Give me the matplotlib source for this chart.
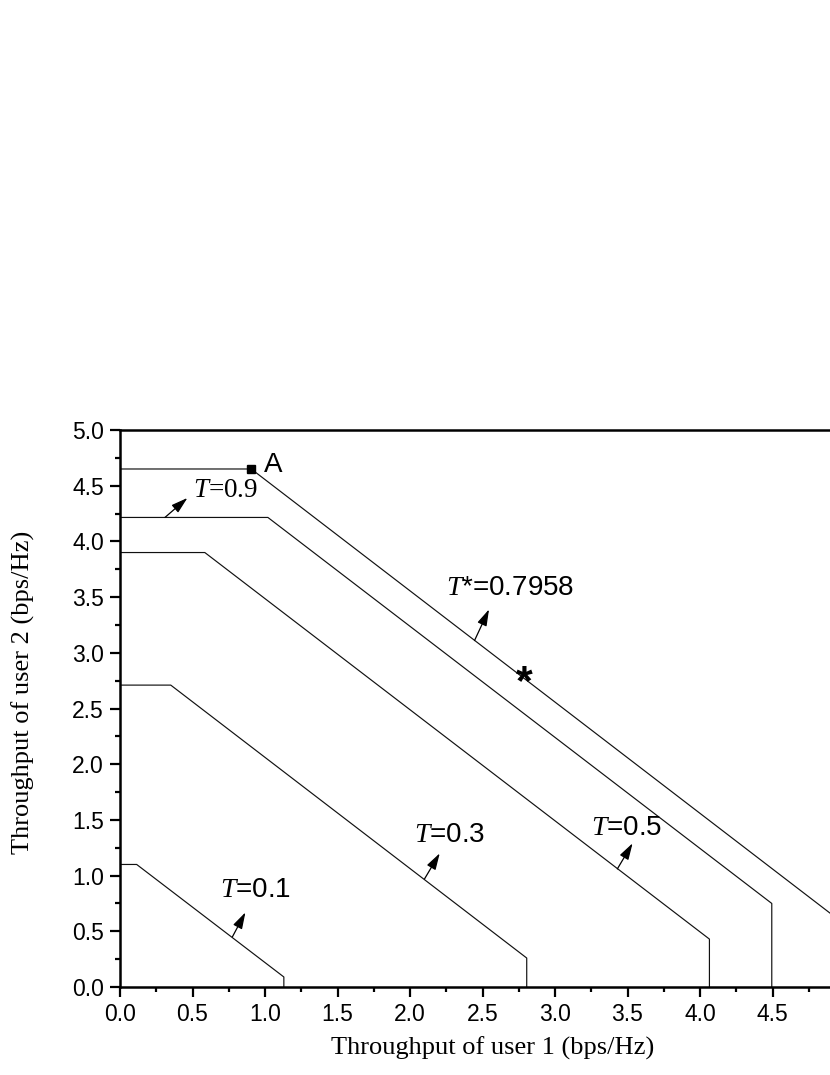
import matplotlib
matplotlib.use("Agg")
import matplotlib.pyplot as plt
from matplotlib.ticker import MultipleLocator, FuncFormatter

plt.rcParams['mathtext.fontset'] = 'custom'
plt.rcParams['mathtext.it'] = 'Liberation Serif:italic'
plt.rcParams['mathtext.rm'] = 'Liberation Serif'

# rate regions for each T: (x, y) vertices
t01_x = [0.0, 0.115, 1.13, 1.13]
t01_y = [1.10, 1.10, 0.09, 0.0]
t03_x = [0.0, 0.35, 2.805, 2.805]
t03_y = [2.71, 2.71, 0.26, 0.0]
t05_x = [0.0, 0.585, 4.065, 4.065]
t05_y = [3.90, 3.90, 0.43, 0.0]
t09_x = [0.0, 1.02, 4.495, 4.495]
t09_y = [4.215, 4.215, 0.75, 0.0]
tstar_x = [0.0, 0.905, 4.96, 4.96]
tstar_y = [4.65, 4.65, 0.60, 0.0]

point_a = (0.905, 4.65)
point_star = (2.785, 2.82)

# labels: text, text position, arrow tail, arrow head, font family, size
labels = [
    (r'$T$=0.9', (0.50, 4.455), (0.31, 4.215), (0.465, 4.39), 'Liberation Serif', 19.5),
    (r'$T$*=0.7958', (2.25, 3.58), (2.445, 3.11), (2.545, 3.39), 'Liberation Sans', 20),
    (r'$T$=0.5', (3.25, 1.43), (3.43, 1.06), (3.535, 1.29), 'Liberation Sans', 20),
    (r'$T$=0.3', (2.03, 1.36), (2.10, 0.97), (2.205, 1.20), 'Liberation Sans', 20),
    (r'$T$=0.1', (0.69, 0.87), (0.775, 0.45), (0.865, 0.67), 'Liberation Sans', 20),
]

fig = plt.figure(figsize=(8.3, 10.75), dpi=100)
ax = fig.add_axes([120/830, 88/1075, 725/830, 557/1075])

for xs, ys in [(t01_x, t01_y), (t03_x, t03_y), (t05_x, t05_y),
               (t09_x, t09_y), (tstar_x, tstar_y)]:
    ax.plot(xs, ys, color='#111111', lw=0.85)

ax.plot(*point_a, marker='s', ms=6, color='black')
ax.text(point_a[0] + 0.09, point_a[1] + 0.04, 'A', fontsize=20,
        family='Liberation Sans', va='center', ha='left')
ax.text(point_star[0], point_star[1] - 0.09, '*', fontsize=31, family='Liberation Sans',
        fontweight='bold', ha='center', va='center')

for txt, tpos, tail, head, fam, fs in labels:
    ax.annotate('', xy=head, xytext=tail,
                arrowprops=dict(arrowstyle='-|>,head_length=1.0,head_width=0.3',
                                color='black', lw=0.9, shrinkA=0, shrinkB=0))
    ax.text(tpos[0], tpos[1], txt, fontsize=fs, family=fam, ha='left', va='center')

ax.set_xlim(0, 5.0)
ax.set_ylim(0, 5.0)
ax.xaxis.set_major_locator(MultipleLocator(0.5))
ax.xaxis.set_minor_locator(MultipleLocator(0.25))
ax.yaxis.set_major_locator(MultipleLocator(0.5))
ax.yaxis.set_minor_locator(MultipleLocator(0.25))
# last x label sits past the cropped right edge, so leave it blank
ax.xaxis.set_major_formatter(FuncFormatter(lambda v, p: '' if v > 4.9 else '%.1f' % v))
ax.yaxis.set_major_formatter(FuncFormatter(lambda v, p: '%.1f' % v))
ax.tick_params(which='both', direction='out', top=False, right=False, width=1.6)
ax.tick_params(which='major', length=7, pad=4.5, labelsize=16.5)
ax.tick_params(which='minor', length=3.5)
for lab in ax.get_xticklabels() + ax.get_yticklabels():
    lab.set_family('Liberation Sans')
for sp in ax.spines.values():
    sp.set_linewidth(1.8)

ax.set_xlabel('Throughput of user 1 (bps/Hz)', fontsize=19, family='Liberation Serif')
ax.set_ylabel('Throughput of user 2 (bps/Hz)', fontsize=19, family='Liberation Serif')
ax.xaxis.set_label_coords((493 - 120) / 725, -(1037 - 987) / 557)
ax.yaxis.set_label_coords(-(120 - 35) / 725, (987 - 692) / 557)

fig.savefig('out.png', dpi=100)
